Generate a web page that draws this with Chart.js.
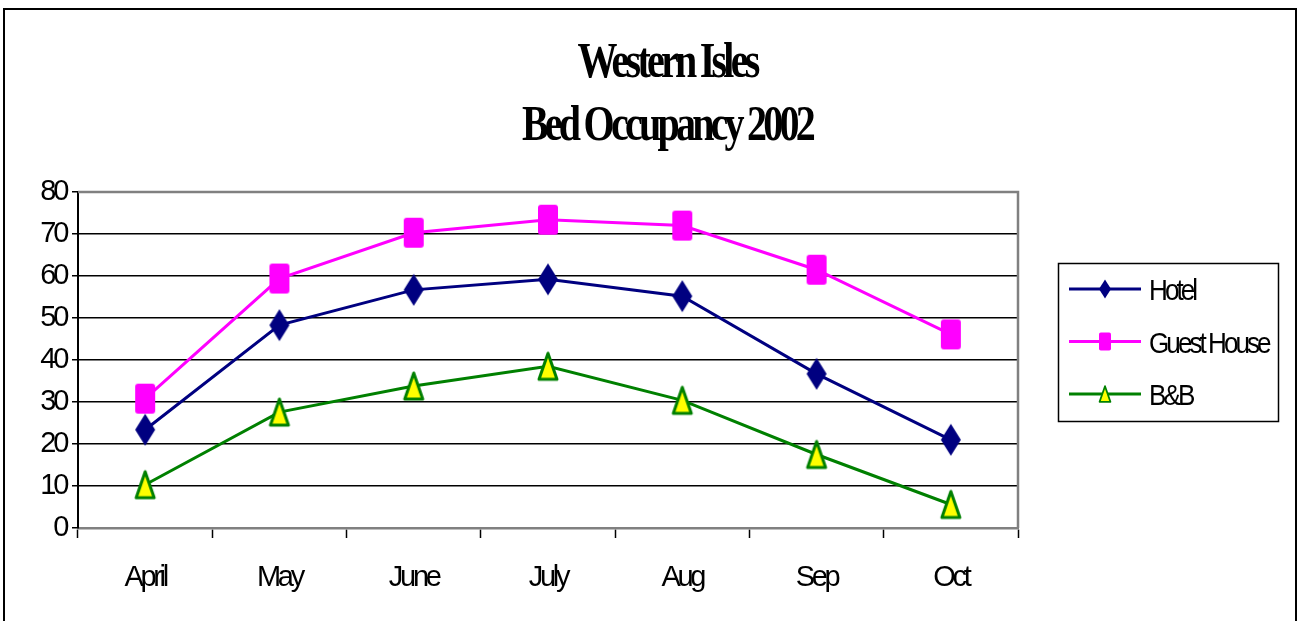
<!DOCTYPE html>
<html lang="en">
<head>
<meta charset="UTF-8">
<title>Western Isles Bed Occupancy 2002</title>
<script src="https://cdn.jsdelivr.net/npm/chart.js"></script>
<style>
  html, body { margin: 0; padding: 0; background: #fff; }
</style>
</head>
<body>
<canvas id="chart" width="1300" height="621"></canvas>
<script>
// data
const months = ['April', 'May', 'June', 'July', 'Aug', 'Sep', 'Oct'];
const hotel = [23.4, 48.3, 56.7, 59.2, 55.2, 36.7, 21.0];
const guestHouse = [30.8, 59.4, 70.3, 73.4, 72.0, 61.5, 46.1];
const bnb = [10.3, 27.6, 33.8, 38.5, 30.4, 17.5, 5.6];
const seriesNames = ['Hotel', 'Guest House', 'B&B'];
const titleLines = ['Western Isles', 'Bed Occupancy 2002'];

const sansFont = "'Liberation Sans', Arial, sans-serif";
// the original renders its text very tight
const squeeze = '-3.3px';

// excel-like markers (tall and narrow)
function drawMarker(g, kind, x, y, k) {
    g.save();
    g.translate(x, y);
    g.scale(k, k);
    g.beginPath();
    if (kind === 'diamond') {
        g.moveTo(0, -16); g.lineTo(10, 0); g.lineTo(0, 16); g.lineTo(-10, 0);
        g.closePath();
        g.fillStyle = '#000080';
        g.fill();
    } else if (kind === 'square') {
        g.roundRect(-10, -15, 20, 30, 3);
        g.fillStyle = '#ff00ff';
        g.fill();
    } else {
        g.moveTo(0, -13); g.lineTo(9, 13); g.lineTo(-9, 13);
        g.closePath();
        g.fillStyle = '#ffff00';
        g.fill();
        g.lineJoin = 'round';
        g.lineWidth = 3;
        g.strokeStyle = '#008000';
        g.stroke();
    }
    g.restore();
}

function markerImage(kind) {
    const c = document.createElement('canvas');
    c.width = 26;
    c.height = 36;
    drawMarker(c.getContext('2d'), kind, 13, 18, 1);
    return c;
}

const framePlugin = {
    id: 'frame',
    beforeDraw(chart) {
        const ctx = chart.ctx;
        ctx.save();
        ctx.fillStyle = '#fff';
        ctx.fillRect(0, 0, chart.width, chart.height);
        ctx.lineWidth = 2;
        ctx.strokeStyle = '#000';
        ctx.strokeRect(4, 9, chart.width - 8, chart.height + 40);
        ctx.restore();
        ctx.letterSpacing = squeeze;
    },
    beforeDatasetsDraw(chart) {
        // grey top and right edges of the plot area
        const {ctx, chartArea: a} = chart;
        ctx.save();
        ctx.strokeStyle = '#808080';
        ctx.lineWidth = 2.5;
        ctx.beginPath();
        ctx.moveTo(a.left, a.top);
        ctx.lineTo(a.right, a.top);
        ctx.lineTo(a.right, a.bottom);
        ctx.stroke();
        ctx.restore();
    },
    afterDraw(chart) {
        const ctx = chart.ctx;
        // title
        ctx.save();
        ctx.fillStyle = '#000';
        ctx.font = "bold 50px 'Liberation Serif', 'Times New Roman', serif";
        ctx.letterSpacing = '-4.7px';
        ctx.textAlign = 'center';
        ctx.textBaseline = 'alphabetic';
        ctx.translate(667, 0);
        ctx.scale(0.8, 1);
        ctx.fillText(titleLines[0], 0, 77);
        ctx.fillText(titleLines[1], 0, 140);
        ctx.restore();

        // legend
        const left = chart.chartArea.right + 40;
        const top = 263;
        ctx.save();
        ctx.lineWidth = 1.5;
        ctx.strokeStyle = '#000';
        ctx.strokeRect(left + 0.5, top + 0.5, 220, 158);
        chart.data.datasets.forEach((ds, i) => {
            const y = top + 26 + i * 52.5;
            ctx.strokeStyle = ds.borderColor;
            ctx.lineWidth = 3;
            ctx.beginPath();
            ctx.moveTo(left + 11, y);
            ctx.lineTo(left + 83, y);
            ctx.stroke();
            drawMarker(ctx, ds.marker, left + 47, y, 0.6);
            ctx.save();
            ctx.font = '29px ' + sansFont;
            ctx.letterSpacing = squeeze;
            ctx.textAlign = 'left';
            ctx.textBaseline = 'alphabetic';
            ctx.fillStyle = '#000';
            ctx.translate(left + 91, y + 11);
            ctx.scale(0.9, 1);
            ctx.fillText(ds.label, 0, 0);
            ctx.restore();
        });
        ctx.restore();
    }
};

new Chart(document.getElementById('chart'), {
    type: 'line',
    data: {
        labels: months,
        datasets: [
            {
                label: seriesNames[0], data: hotel, marker: 'diamond',
                borderColor: '#000080', borderWidth: 3,
                pointStyle: markerImage('diamond')
            },
            {
                label: seriesNames[1], data: guestHouse, marker: 'square',
                borderColor: '#ff00ff', borderWidth: 3,
                pointStyle: markerImage('square')
            },
            {
                label: seriesNames[2], data: bnb, marker: 'triangle',
                borderColor: '#008000', borderWidth: 3,
                pointStyle: markerImage('triangle')
            }
        ]
    },
    options: {
        responsive: false,
        animation: false,
        devicePixelRatio: 1,
        layout: { padding: { left: 18, right: 282, top: 192, bottom: 23 } },
        elements: { line: { tension: 0 }, point: { radius: 12 } },
        plugins: {
            legend: { display: false },
            title: { display: false },
            tooltip: { enabled: false }
        },
        scales: {
            x: {
                offset: true,
                afterFit(scale) { scale.height = 70; },
                border: { color: '#808080', width: 2.5 },
                grid: {
                    offset: true,
                    drawOnChartArea: false,
                    tickLength: 10,
                    tickColor: '#000',
                    tickWidth: 1.5
                },
                ticks: {
                    padding: 23,
                    color: '#000',
                    font: { family: sansFont, size: 29 }
                }
            },
            y: {
                min: 0,
                max: 80,
                afterFit(scale) { scale.width = 60; },
                border: { color: '#000', width: 2 },
                grid: {
                    color: '#000',
                    lineWidth: 1.5,
                    tickLength: 6,
                    tickColor: '#000'
                },
                ticks: {
                    stepSize: 10,
                    padding: 6,
                    color: '#000',
                    font: { family: sansFont, size: 29 }
                }
            }
        }
    },
    plugins: [framePlugin]
});
</script>
</body>
</html>
